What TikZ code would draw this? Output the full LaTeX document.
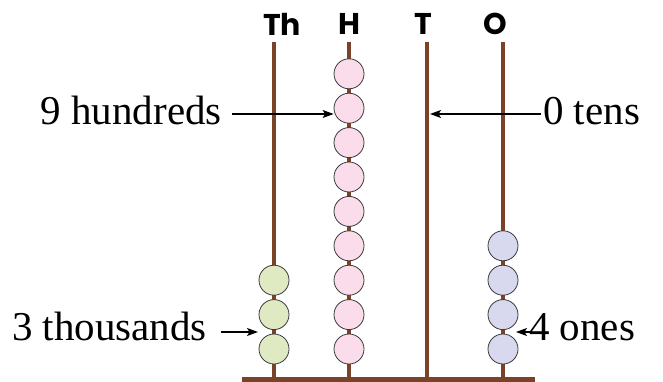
\documentclass[tikz,border=0pt]{standalone}
\usepackage{fontspec}
\setmainfont{Liberation Serif}
\newfontfamily\placefont{Poppins}
\usetikzlibrary{arrows.meta}
\definecolor{rodbrown}{HTML}{7A4226}
\definecolor{beadline}{HTML}{3A3A3A}
\definecolor{thgreen}{HTML}{E0EAC2}
\definecolor{hpink}{HTML}{FADCEA}
\definecolor{olilac}{HTML}{D8D8EE}
\begin{document}
\begin{tikzpicture}[x=1pt,y=-1pt,
  rod/.style={draw=rodbrown, line width=4.5pt},
  bead/.style={circle, draw=beadline, line width=0.8pt, minimum size=30pt, inner sep=0pt},
  caption/.style={font=\fontsize{41}{41}\selectfont, inner sep=0pt},
  place/.style={font=\placefont\bfseries\fontsize{30}{30}\selectfont, inner sep=0pt},
  pointer/.style={-{Stealth[length=11pt,width=8pt,inset=2.5pt]}, line width=1.1pt}]
\useasboundingbox (0,0) rectangle (663,382);

% rods and base bar
\coordinate (thTop) at (274,42);  \coordinate (thBot) at (274,379);
\coordinate (hTop)  at (349,42);  \coordinate (hBot)  at (349,379);
\coordinate (tTop)  at (427,42);  \coordinate (tBot)  at (427,379);
\coordinate (oTop)  at (503,42);  \coordinate (oBot)  at (503,379);
\coordinate (baseL) at (242,379); \coordinate (baseR) at (535,379);
\foreach \r in {th,h,t,o} \draw[rod] (\r Top) -- (\r Bot);
\draw[rod, line width=5pt] (baseL) -- (baseR);

% column headings
\node[place] (thHead) at (282,24) {Th};
\node[place] (hHead)  at (349,24) {H};
\node[place] (tHead)  at (423,24) {T};
\node[place] (oHead)  at (495,24) {O};

% beads, counted from the bottom
\foreach \i in {1,...,3} \node[bead, fill=thgreen] (th\i) at (274,{349-34.4*(\i-1)}) {};
\foreach \i in {1,...,9} \node[bead, fill=hpink]   (h\i)  at (349,{349-34.4*(\i-1)}) {};
\foreach \i in {1,...,4} \node[bead, fill=olilac]  (o\i)  at (503,{349-34.4*(\i-1)}) {};

% captions and pointers
\node[caption, anchor=base east] (hundreds)  at (222,125) {9 hundreds};
\node[caption, anchor=base west] (tens)      at (543,125) {0 tens};
\node[caption, anchor=base east] (thousands) at (207,340) {3 thousands};
\node[caption, anchor=base west] (ones)      at (529,340) {4 ones};

\coordinate (hStart)  at (232,114);
\coordinate (tStart)  at (541,114);
\coordinate (tHit)    at (430,114);
\coordinate (thStart) at (221,332);
\coordinate (thHit)   at (258,332);
\coordinate (oStart)  at (530,332);
\coordinate (oHit)    at (516,332);
\draw[pointer] (hStart) -- (h8.west |- hStart);
\draw[pointer] (tStart) -- (tHit);
\draw[pointer] (thStart) -- (thHit);
\draw[pointer] (oStart) -- (oHit);
\end{tikzpicture}
\end{document}
